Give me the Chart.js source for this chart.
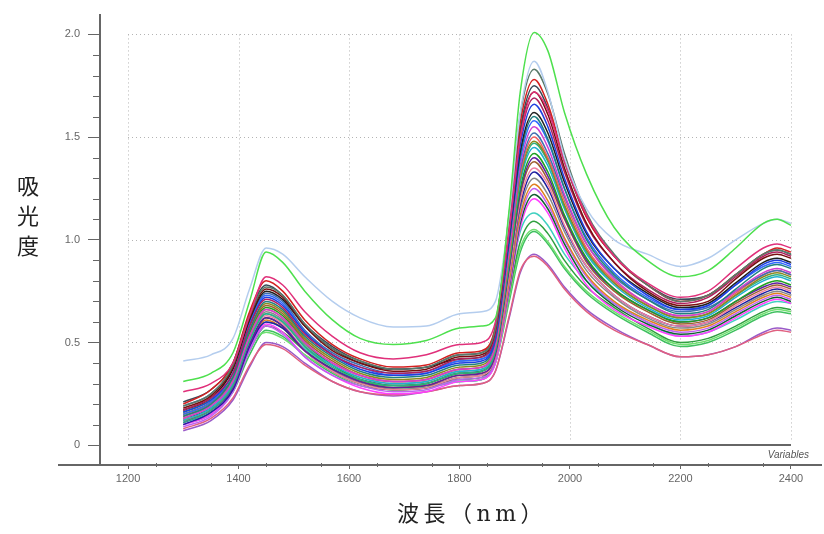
<!DOCTYPE html>
<html lang="ja">
<head>
<meta charset="utf-8">
<script src="https://cdn.jsdelivr.net/npm/chart.js@4.4.1/dist/chart.umd.min.js"></script>
<style>
  html, body { margin: 0; padding: 0; background: #fff; }
  #wrap { position: relative; width: 824px; height: 534px; }
  .ytitle {
    position: absolute; left: 14px; top: 172px; width: 28px;
    font: 22px "DejaVu Serif", "Noto Sans CJK JP", serif; line-height: 30px;
    color: #222; text-align: center;
  }
  .xtitle {
    position: absolute; left: 397px; top: 495px; letter-spacing: 4.5px;
    font: 22px "DejaVu Serif", "Noto Sans CJK JP", serif; color: #222; white-space: nowrap;
  }
</style>
</head>
<body>
<div id="wrap">
  <canvas id="chart" width="824" height="534"></canvas>
  <div class="ytitle">吸<br>光<br>度</div>
  <div class="xtitle">波長（nm）</div>
</div>
<script>
// 波長 (nm)
const wavelengths = [1300, 1350, 1390, 1420, 1450, 1480, 1520, 1570, 1620, 1680, 1740, 1800, 1840, 1865,
                     1890, 1910, 1935, 1960, 1990, 2030, 2080, 2140, 2200, 2250, 2300, 2350, 2375, 2400];

const xTickValues = [1200, 1400, 1600, 1800, 2000, 2200, 2400];
const yTickValues = [0, 0.5, 1.0, 1.5, 2.0];

// 吸光度スペクトル (サンプルごと)
const sample01 = [0.31,0.35,0.45,0.70,0.94,0.89,0.75,0.61,0.52,0.49,0.51,0.57,0.58,0.62,1.15,1.72,2.01,1.92,1.62,1.32,1.06,0.90,0.82,0.85,0.96,1.08,1.10,1.07];
const sample02 = [0.41,0.44,0.52,0.76,0.96,0.93,0.82,0.70,0.62,0.575,0.58,0.64,0.65,0.70,1.12,1.62,1.87,1.72,1.40,1.15,1.00,0.93,0.87,0.91,1.00,1.08,1.10,1.08];
const sample03 = [0.26,0.30,0.40,0.63,0.82,0.78,0.65,0.53,0.45,0.42,0.44,0.49,0.50,0.60,1.05,1.50,1.72,1.63,1.38,1.12,0.92,0.79,0.72,0.75,0.86,0.96,0.98,0.96];
const sample04 = [0.19,0.25,0.39,0.63,0.77,0.73,0.59,0.47,0.41,0.37,0.38,0.44,0.45,0.57,1.13,1.61,1.83,1.71,1.42,1.13,0.93,0.78,0.70,0.73,0.83,0.93,0.95,0.93];
const sample05 = [0.20,0.27,0.40,0.65,0.80,0.75,0.61,0.49,0.42,0.38,0.39,0.45,0.46,0.58,1.11,1.57,1.78,1.66,1.39,1.11,0.92,0.78,0.70,0.73,0.83,0.93,0.96,0.94];
const sample06 = [0.21,0.27,0.40,0.64,0.78,0.73,0.59,0.48,0.41,0.37,0.38,0.44,0.45,0.57,1.09,1.54,1.75,1.64,1.38,1.11,0.92,0.78,0.71,0.73,0.83,0.93,0.95,0.93];
const sample07 = [0.18,0.24,0.38,0.62,0.76,0.72,0.58,0.46,0.40,0.36,0.37,0.43,0.44,0.56,1.07,1.52,1.72,1.61,1.35,1.08,0.89,0.75,0.68,0.70,0.81,0.91,0.93,0.91];
const sample08 = [0.17,0.23,0.35,0.58,0.71,0.67,0.54,0.44,0.38,0.35,0.36,0.42,0.43,0.54,1.05,1.49,1.69,1.58,1.33,1.07,0.89,0.76,0.69,0.72,0.82,0.92,0.94,0.92];
const sample09 = [0.16,0.22,0.35,0.58,0.72,0.68,0.55,0.44,0.37,0.34,0.35,0.40,0.41,0.52,1.02,1.46,1.66,1.55,1.30,1.04,0.86,0.73,0.66,0.68,0.78,0.88,0.90,0.88];
const sample10 = [0.17,0.23,0.37,0.61,0.75,0.71,0.58,0.47,0.40,0.37,0.38,0.42,0.43,0.54,1.01,1.43,1.62,1.52,1.28,1.03,0.86,0.74,0.67,0.69,0.79,0.89,0.91,0.89];
const sample11 = [0.14,0.20,0.33,0.56,0.70,0.66,0.53,0.43,0.36,0.33,0.34,0.39,0.40,0.51,0.99,1.41,1.60,1.49,1.25,1.00,0.83,0.71,0.64,0.66,0.76,0.86,0.88,0.86];
const sample12 = [0.15,0.21,0.35,0.59,0.73,0.69,0.55,0.44,0.38,0.34,0.35,0.41,0.42,0.52,0.99,1.39,1.58,1.48,1.25,1.01,0.84,0.72,0.66,0.68,0.78,0.87,0.89,0.87];
const sample13 = [0.13,0.19,0.31,0.53,0.66,0.62,0.50,0.40,0.34,0.31,0.32,0.37,0.38,0.49,0.95,1.36,1.55,1.45,1.22,0.98,0.81,0.69,0.63,0.65,0.75,0.84,0.86,0.84];
const sample14 = [0.19,0.25,0.38,0.60,0.74,0.70,0.56,0.45,0.39,0.35,0.36,0.41,0.42,0.52,0.96,1.34,1.52,1.42,1.21,0.98,0.82,0.71,0.65,0.67,0.75,0.83,0.85,0.83];
const sample15 = [0.14,0.20,0.32,0.53,0.66,0.62,0.50,0.40,0.34,0.31,0.32,0.37,0.38,0.48,0.93,1.32,1.50,1.40,1.19,0.96,0.80,0.69,0.63,0.65,0.74,0.83,0.85,0.83];
const sample16 = [0.15,0.21,0.33,0.56,0.69,0.65,0.52,0.42,0.35,0.32,0.33,0.38,0.39,0.49,0.92,1.31,1.48,1.39,1.17,0.95,0.79,0.68,0.62,0.64,0.73,0.82,0.84,0.82];
const sample17 = [0.11,0.17,0.29,0.51,0.64,0.60,0.48,0.38,0.32,0.29,0.30,0.35,0.36,0.46,0.90,1.29,1.47,1.38,1.16,0.94,0.79,0.68,0.62,0.64,0.73,0.81,0.83,0.81];
const sample18 = [0.12,0.18,0.30,0.51,0.64,0.60,0.48,0.39,0.33,0.30,0.31,0.36,0.37,0.47,0.90,1.28,1.45,1.36,1.15,0.93,0.78,0.67,0.61,0.63,0.72,0.80,0.82,0.80];
const sample19 = [0.16,0.22,0.33,0.54,0.67,0.63,0.50,0.39,0.32,0.29,0.30,0.35,0.36,0.46,0.88,1.25,1.42,1.33,1.12,0.91,0.76,0.66,0.60,0.62,0.70,0.78,0.80,0.78];
const sample20 = [0.11,0.17,0.28,0.49,0.62,0.58,0.46,0.37,0.31,0.28,0.29,0.34,0.35,0.44,0.86,1.23,1.40,1.31,1.11,0.90,0.76,0.66,0.60,0.62,0.70,0.77,0.79,0.77];
const sample21 = [0.15,0.21,0.33,0.55,0.68,0.64,0.51,0.41,0.34,0.31,0.32,0.37,0.38,0.47,0.87,1.22,1.38,1.29,1.10,0.89,0.75,0.65,0.59,0.61,0.69,0.76,0.78,0.76];
const sample22 = [0.13,0.19,0.30,0.51,0.63,0.59,0.46,0.36,0.30,0.27,0.28,0.33,0.34,0.43,0.83,1.19,1.35,1.27,1.07,0.87,0.73,0.63,0.58,0.60,0.68,0.75,0.77,0.75];
const sample23 = [0.10,0.16,0.27,0.48,0.60,0.57,0.46,0.37,0.32,0.29,0.30,0.35,0.36,0.45,0.84,1.17,1.33,1.25,1.06,0.87,0.73,0.63,0.58,0.60,0.67,0.74,0.76,0.74];
const sample24 = [0.14,0.20,0.31,0.52,0.65,0.61,0.49,0.39,0.33,0.30,0.31,0.36,0.37,0.45,0.83,1.15,1.30,1.22,1.04,0.85,0.72,0.62,0.57,0.59,0.66,0.73,0.75,0.73];
const sample25 = [0.12,0.17,0.29,0.49,0.61,0.57,0.46,0.37,0.31,0.28,0.29,0.34,0.35,0.43,0.80,1.12,1.27,1.19,1.01,0.83,0.70,0.61,0.56,0.58,0.65,0.72,0.74,0.72];
const sample26 = [0.09,0.14,0.26,0.46,0.58,0.54,0.43,0.34,0.29,0.26,0.27,0.32,0.33,0.41,0.78,1.10,1.25,1.17,1.00,0.82,0.69,0.60,0.55,0.57,0.64,0.71,0.73,0.71];
const sample27 = [0.13,0.18,0.30,0.50,0.62,0.58,0.46,0.36,0.30,0.27,0.28,0.33,0.34,0.42,0.77,1.08,1.22,1.15,0.98,0.80,0.68,0.59,0.54,0.56,0.63,0.70,0.72,0.70];
const sample28 = [0.10,0.15,0.27,0.47,0.59,0.55,0.43,0.34,0.28,0.25,0.26,0.31,0.32,0.40,0.75,1.06,1.20,1.13,0.96,0.78,0.66,0.58,0.53,0.55,0.62,0.69,0.71,0.69];
const sample29 = [0.11,0.16,0.27,0.47,0.60,0.57,0.47,0.37,0.30,0.27,0.28,0.31,0.32,0.42,0.77,1.04,1.13,1.07,0.93,0.80,0.69,0.60,0.53,0.55,0.61,0.68,0.70,0.69];
const sample30 = [0.12,0.17,0.28,0.46,0.58,0.55,0.46,0.37,0.31,0.28,0.29,0.32,0.33,0.42,0.74,0.99,1.09,1.03,0.90,0.77,0.67,0.57,0.50,0.52,0.58,0.65,0.67,0.66];
const sample31 = [0.14,0.19,0.30,0.48,0.55,0.52,0.44,0.36,0.30,0.27,0.28,0.31,0.32,0.40,0.72,0.96,1.05,0.99,0.87,0.75,0.65,0.56,0.49,0.51,0.57,0.64,0.66,0.65];
const sample32 = [0.10,0.15,0.26,0.44,0.56,0.53,0.44,0.35,0.29,0.27,0.28,0.31,0.32,0.40,0.70,0.94,1.04,0.98,0.86,0.74,0.64,0.55,0.48,0.50,0.56,0.63,0.65,0.64];
const sample33 = [0.08,0.13,0.23,0.39,0.49,0.47,0.39,0.31,0.26,0.245,0.26,0.29,0.30,0.36,0.63,0.85,0.92,0.87,0.76,0.65,0.56,0.49,0.43,0.44,0.48,0.54,0.56,0.55];
const sample34 = [0.07,0.12,0.22,0.38,0.50,0.48,0.40,0.31,0.26,0.24,0.26,0.29,0.30,0.36,0.62,0.84,0.93,0.88,0.77,0.66,0.57,0.49,0.43,0.44,0.48,0.55,0.57,0.56];

const samples = [sample01, sample02, sample03, sample04, sample05, sample06, sample07, sample08, sample09,
                 sample10, sample11, sample12, sample13, sample14, sample15, sample16, sample17, sample18,
                 sample19, sample20, sample21, sample22, sample23, sample24, sample25, sample26, sample27,
                 sample28, sample29, sample30, sample31, sample32, sample33, sample34];

const sampleColors = ['#4ee04e', '#b4cdee', '#e0307a', '#5a7a6a', '#d42020', '#3a4a5a', '#7a1010', '#b02060',
                      '#2040e0', '#202020', '#208080', '#3068ff', '#d040d0', '#4070b0', '#f06060', '#8a8a20',
                      '#30b080', '#20b0d0', '#20a020', '#6020a0', '#a06030', '#f080a0', '#2020a0', '#888888',
                      '#e08020', '#c060f0', '#106030', '#ff40ff', '#40d0c0', '#30a040', '#70e070', '#40c060',
                      '#e06080', '#9a5ac8'];

// 枠・目盛り・グリッド
const framePlugin = {
    id: 'frame',
    beforeDatasetsDraw(chart) {
        const { ctx, scales: { x, y } } = chart;
        ctx.save();
        ctx.strokeStyle = '#b4b4b4';
        ctx.lineWidth = 1;
        ctx.setLineDash([1, 3]);
        xTickValues.forEach(v => {
            const px = Math.round(x.getPixelForValue(v)) + 0.5;
            ctx.beginPath();
            ctx.moveTo(px, y.getPixelForValue(2.0));
            ctx.lineTo(px, y.getPixelForValue(0) - 5);
            ctx.stroke();
        });
        yTickValues.filter(v => v > 0).forEach(v => {
            const py = Math.round(y.getPixelForValue(v)) + 0.5;
            ctx.beginPath();
            ctx.moveTo(x.getPixelForValue(1200), py);
            ctx.lineTo(x.getPixelForValue(2400), py);
            ctx.stroke();
        });
        ctx.setLineDash([]);
        // 0 のベースライン
        ctx.strokeStyle = '#666';
        ctx.lineWidth = 2;
        const y0 = Math.round(y.getPixelForValue(0));
        ctx.beginPath();
        ctx.moveTo(x.getPixelForValue(1200), y0);
        ctx.lineTo(x.getPixelForValue(2400), y0);
        ctx.stroke();
        ctx.restore();
    },
    afterDraw(chart) {
        const { ctx, chartArea, scales: { x, y } } = chart;
        ctx.save();
        ctx.strokeStyle = '#666';
        ctx.lineWidth = 1;
        // y 補助目盛り
        for (let v = 0.1; v < 2.05; v += 0.1) {
            if (Math.abs(v * 2 - Math.round(v * 2)) < 0.01) continue;
            const py = Math.round(y.getPixelForValue(v)) + 0.5;
            ctx.beginPath();
            ctx.moveTo(chartArea.left - 7, py);
            ctx.lineTo(chartArea.left, py);
            ctx.stroke();
        }
        // x 軸の延長
        ctx.lineWidth = 2;
        ctx.beginPath();
        ctx.moveTo(58, chartArea.bottom);
        ctx.lineTo(822, chartArea.bottom);
        ctx.stroke();
        // x 補助目盛り
        ctx.lineWidth = 1;
        for (let v = 1250; v < 2450; v += 100) {
            const px = Math.round(x.getPixelForValue(v)) + 0.5;
            ctx.beginPath();
            ctx.moveTo(px, chartArea.bottom - 2);
            ctx.lineTo(px, chartArea.bottom + 2);
            ctx.stroke();
        }
        ctx.fillStyle = '#555';
        ctx.font = 'italic 10px "Liberation Sans", Arial, sans-serif';
        ctx.textAlign = 'right';
        ctx.textBaseline = 'middle';
        ctx.fillText('Variables', 809, chartArea.bottom - 10);
        ctx.restore();
    }
};

const datasets = samples.map((s, i) => ({
    label: 'sample' + (i + 1),
    data: wavelengths.map((w, j) => ({ x: w, y: s[j] })),
    borderColor: sampleColors[i],
    borderWidth: 1.5,
    pointRadius: 0,
    fill: false,
    cubicInterpolationMode: 'monotone'
}));

new Chart(document.getElementById('chart').getContext('2d'), {
    type: 'line',
    data: { datasets: datasets },
    options: {
        responsive: false,
        animation: false,
        layout: { padding: { left: 0, right: 16, top: 11, bottom: 0 } },
        plugins: { legend: { display: false }, tooltip: { enabled: false } },
        scales: {
            x: {
                type: 'linear',
                min: 1149.3,
                max: 2430.8,
                afterFit: (scale) => { scale.height = 69; },
                afterBuildTicks: (scale) => { scale.ticks = xTickValues.map(v => ({ value: v })); },
                grid: { display: true, drawOnChartArea: false, drawTicks: true, tickLength: 4, tickColor: '#666' },
                border: { display: true, color: '#666', width: 2 },
                ticks: {
                    color: '#666', padding: 3, maxRotation: 0,
                    font: { family: '"Liberation Sans", Arial, sans-serif', size: 11 },
                    callback: (v) => String(v)
                }
            },
            y: {
                type: 'linear',
                min: -0.0966,
                max: 2.0966,
                afterFit: (scale) => { scale.width = 100; },
                afterBuildTicks: (scale) => { scale.ticks = yTickValues.map(v => ({ value: v })); },
                grid: { display: true, drawOnChartArea: false, drawTicks: true, tickLength: 12, tickColor: '#666' },
                border: { display: true, color: '#666', width: 2 },
                ticks: {
                    color: '#666', padding: 8,
                    font: { family: '"Liberation Sans", Arial, sans-serif', size: 11 },
                    callback: (v) => v === 0 ? '0' : v.toFixed(1)
                }
            }
        }
    },
    plugins: [framePlugin]
});
</script>
</body>
</html>
